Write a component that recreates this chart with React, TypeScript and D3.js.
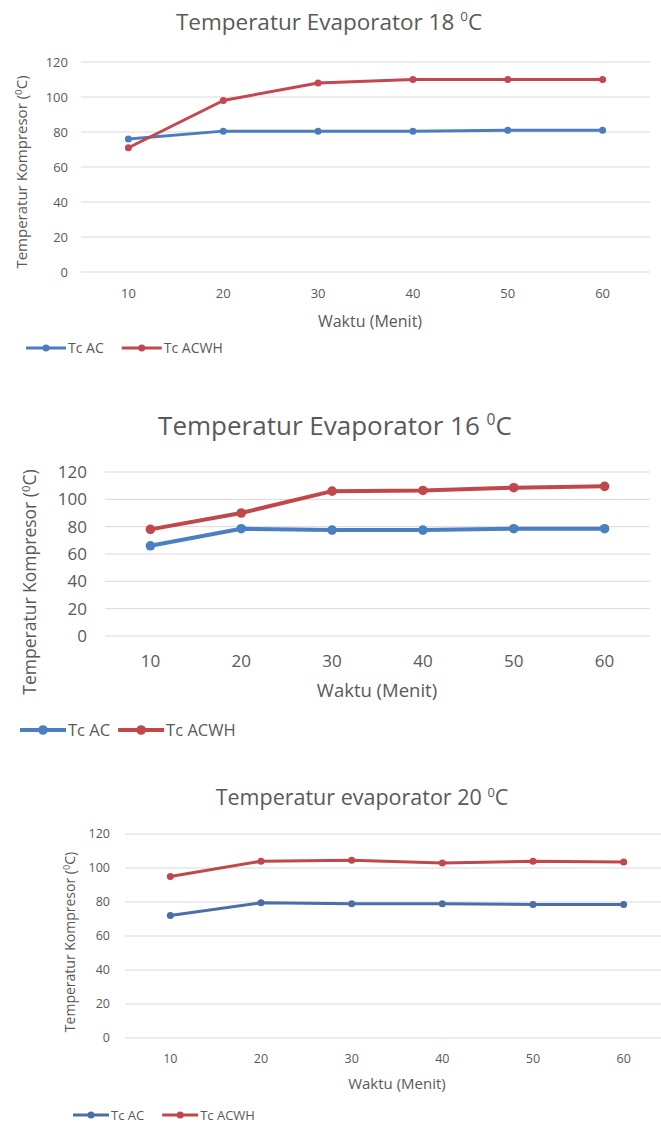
import { useEffect, useRef } from 'react';
import * as d3 from 'd3';

const minutes = [10, 20, 30, 40, 50, 60];
const yTicks = [0, 20, 40, 60, 80, 100, 120];
const seriesNames = ['Tc AC', 'Tc ACWH'];

const ac18 = [76, 80.5, 80.5, 80.5, 81, 81];
const acwh18 = [71, 98, 108, 110, 110, 110];
const ac16 = [66, 78.5, 77.5, 77.5, 78.5, 78.5];
const acwh16 = [78, 90, 106, 106.5, 108.5, 109.5];
const ac20 = [72, 79.5, 79, 79, 78.5, 78.5];
const acwh20 = [95, 104, 104.5, 103, 104, 103.5];

const FONT = '"Open Sans", Lato, sans-serif';
const TEXT = '#595959';

const charts = [
  {
    titleMain: 'Temperatur Evaporator 18 ', titleSup: '0', titleEnd: 'C',
    ac: ac18, acwh: acwh18,
    colors: ['#4b7dbd', '#c4474f'],
    x0: 81, x1: 650, yTop: 62, yBottom: 272,
    titleX: 329, titleY: 30, titleSize: 22.5,
    tickSize: 13, yTickX: 68, xTickY: 298,
    axisTitleX: 370, axisTitleY: 327, axisTitleSize: 16,
    yTitleX: 22, yTitleY: 172, yTitleSize: 15,
    legendX: 26, legendY: 348, legendSize: 14, legendLine: 40, legendGap: 18,
    lineWidth: 3, markerR: 3.5
  },
  {
    titleMain: 'Temperatur Evaporator 16 ', titleSup: '0', titleEnd: 'C',
    ac: ac16, acwh: acwh16,
    colors: ['#4a7fc3', '#c0474a'],
    x0: 105, x1: 650, yTop: 472, yBottom: 636,
    titleX: 335, titleY: 435, titleSize: 26,
    tickSize: 17, yTickX: 87, xTickY: 667,
    axisTitleX: 377, axisTitleY: 697, axisTitleSize: 18.5,
    yTitleX: 30, yTitleY: 582, yTitleSize: 17.5,
    legendX: 20, legendY: 730, legendSize: 16.5, legendLine: 46, legendGap: 8,
    lineWidth: 4, markerR: 4.8
  },
  {
    titleMain: 'Temperatur evaporator 20 ', titleSup: '0', titleEnd: 'C',
    ac: ac20, acwh: acwh20,
    colors: ['#4a6fa8', '#c0484d'],
    x0: 125, x1: 669, yTop: 834, yBottom: 1038,
    titleX: 362, titleY: 805, titleSize: 21.5,
    tickSize: 12.5, yTickX: 110, xTickY: 1063,
    axisTitleX: 397, axisTitleY: 1089, axisTitleSize: 15,
    yTitleX: 70, yTitleY: 942, yTitleSize: 14,
    legendX: 73, legendY: 1115, legendSize: 13, legendLine: 36, legendGap: 18,
    lineWidth: 3, markerR: 3.5
  }
];

const App = () => {
  const svgRef = useRef<SVGSVGElement>(null);

  useEffect(() => {
    const svg = d3.select(svgRef.current);
    svg.selectAll('*').remove();

    charts.forEach((c) => {
      const g = svg.append('g');

      const xScale = d3.scaleBand<number>()
        .domain(minutes)
        .range([c.x0, c.x1]);

      const yScale = d3.scaleLinear()
        .domain([0, 120])
        .range([c.yBottom, c.yTop]);

      const cx = (d: number) => (xScale(d) as number) + xScale.bandwidth() / 2;

      // title with superscript zero
      const title = g.append('text')
        .attr('x', c.titleX)
        .attr('y', c.titleY)
        .attr('text-anchor', 'middle')
        .attr('font-family', FONT)
        .attr('font-size', c.titleSize)
        .attr('fill', TEXT);
      title.append('tspan').text(c.titleMain);
      title.append('tspan')
        .attr('font-size', c.titleSize * 0.6)
        .attr('dy', -c.titleSize * 0.38)
        .text(c.titleSup);
      title.append('tspan')
        .attr('dy', c.titleSize * 0.38)
        .text(c.titleEnd);

      // gridlines
      g.append('g')
        .selectAll('line')
        .data(yTicks)
        .enter().append('line')
        .attr('x1', c.x0)
        .attr('x2', c.x1)
        .attr('y1', d => yScale(d))
        .attr('y2', d => yScale(d))
        .attr('stroke', '#d9d9d9')
        .attr('stroke-width', 1);

      // y tick labels
      g.append('g')
        .selectAll('text')
        .data(yTicks)
        .enter().append('text')
        .attr('x', c.yTickX)
        .attr('y', d => yScale(d))
        .attr('dy', '0.35em')
        .attr('text-anchor', 'end')
        .attr('font-family', FONT)
        .attr('font-size', c.tickSize)
        .attr('fill', TEXT)
        .text(d => d);

      // x tick labels
      g.append('g')
        .selectAll('text')
        .data(minutes)
        .enter().append('text')
        .attr('x', d => cx(d))
        .attr('y', c.xTickY)
        .attr('text-anchor', 'middle')
        .attr('font-family', FONT)
        .attr('font-size', c.tickSize)
        .attr('fill', TEXT)
        .text(d => d);

      // axis titles
      g.append('text')
        .attr('x', c.axisTitleX)
        .attr('y', c.axisTitleY)
        .attr('text-anchor', 'middle')
        .attr('font-family', FONT)
        .attr('font-size', c.axisTitleSize)
        .attr('fill', TEXT)
        .text('Waktu (Menit)');

      const yTitle = g.append('text')
        .attr('transform', `translate(${c.yTitleX}, ${c.yTitleY}) rotate(-90)`)
        .attr('text-anchor', 'middle')
        .attr('dy', '0.35em')
        .attr('font-family', FONT)
        .attr('font-size', c.yTitleSize)
        .attr('fill', TEXT);
      yTitle.append('tspan').text('Temperatur Kompresor (');
      yTitle.append('tspan')
        .attr('font-size', c.yTitleSize * 0.65)
        .attr('dy', -c.yTitleSize * 0.35)
        .text('0');
      yTitle.append('tspan')
        .attr('dy', c.yTitleSize * 0.35)
        .text('C)');

      // series
      const line = d3.line<number>()
        .x((_, i) => cx(minutes[i]))
        .y(d => yScale(d));

      [c.ac, c.acwh].forEach((values, si) => {
        g.append('path')
          .datum(values)
          .attr('fill', 'none')
          .attr('stroke', c.colors[si])
          .attr('stroke-width', c.lineWidth)
          .attr('stroke-linejoin', 'round')
          .attr('d', line);

        g.append('g')
          .selectAll('circle')
          .data(values)
          .enter().append('circle')
          .attr('cx', (_, i) => cx(minutes[i]))
          .attr('cy', d => yScale(d))
          .attr('r', c.markerR)
          .attr('fill', c.colors[si]);
      });

      // legend
      let lx = c.legendX;
      seriesNames.forEach((name, si) => {
        const lg = g.append('g');
        lg.append('line')
          .attr('x1', lx)
          .attr('x2', lx + c.legendLine)
          .attr('y1', c.legendY)
          .attr('y2', c.legendY)
          .attr('stroke', c.colors[si])
          .attr('stroke-width', c.lineWidth);
        lg.append('circle')
          .attr('cx', lx + c.legendLine / 2)
          .attr('cy', c.legendY)
          .attr('r', c.markerR)
          .attr('fill', c.colors[si]);
        const t = lg.append('text')
          .attr('x', lx + c.legendLine + 2)
          .attr('y', c.legendY)
          .attr('dy', '0.35em')
          .attr('font-family', FONT)
          .attr('font-size', c.legendSize)
          .attr('fill', TEXT)
          .text(name);
        const w = (t.node() as SVGTextElement).getComputedTextLength();
        lx += c.legendLine + 2 + w + c.legendGap;
      });
    });
  }, []);

  return (
    <div>
      <svg
        ref={svgRef}
        width={661}
        height={1124}
        style={{ position: 'absolute', left: 0, top: 0, background: '#fff' }}
      />
    </div>
  );
};

export default App;
